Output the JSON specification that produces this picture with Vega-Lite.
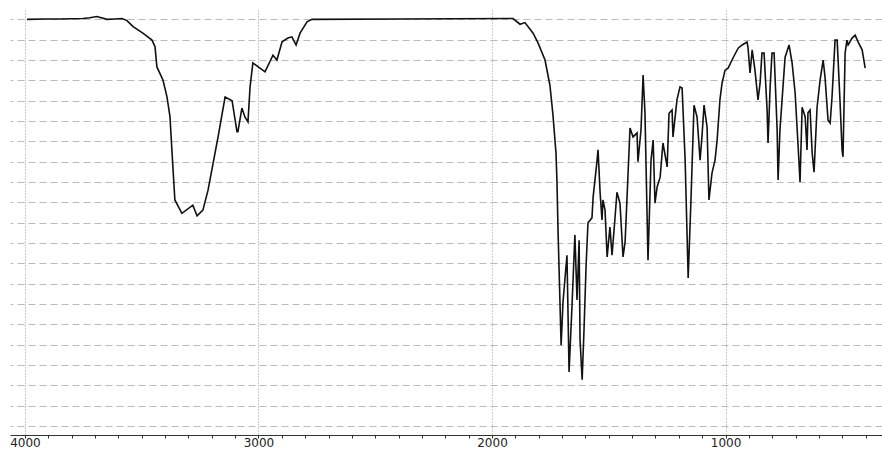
{
  "$schema": "https://vega.github.io/schema/vega-lite/v6.json",
  "autosize": {"type": "none"},
  "width": 872,
  "height": 425,
  "padding": {"left": 10, "top": 10, "right": 0, "bottom": 14},
  "background": "white",
  "config": {"view": {"stroke": null}},
  "data": {
    "values": [
      {"wavenumber": 3991, "transmittance": 100.0},
      {"wavenumber": 3914, "transmittance": 100.1},
      {"wavenumber": 3850, "transmittance": 100.1},
      {"wavenumber": 3752, "transmittance": 100.2},
      {"wavenumber": 3722, "transmittance": 100.4},
      {"wavenumber": 3692, "transmittance": 100.7},
      {"wavenumber": 3649, "transmittance": 100.0},
      {"wavenumber": 3615, "transmittance": 100.1},
      {"wavenumber": 3585, "transmittance": 100.2},
      {"wavenumber": 3563, "transmittance": 99.7},
      {"wavenumber": 3537, "transmittance": 98.2},
      {"wavenumber": 3495, "transmittance": 96.6},
      {"wavenumber": 3456, "transmittance": 94.9},
      {"wavenumber": 3443, "transmittance": 93.3},
      {"wavenumber": 3435, "transmittance": 88.3},
      {"wavenumber": 3409, "transmittance": 85.1},
      {"wavenumber": 3392, "transmittance": 81.0},
      {"wavenumber": 3379, "transmittance": 76.1},
      {"wavenumber": 3370, "transmittance": 67.1},
      {"wavenumber": 3358, "transmittance": 55.6},
      {"wavenumber": 3328, "transmittance": 52.3},
      {"wavenumber": 3281, "transmittance": 54.3},
      {"wavenumber": 3263, "transmittance": 51.7},
      {"wavenumber": 3238, "transmittance": 53.1},
      {"wavenumber": 3216, "transmittance": 58.0},
      {"wavenumber": 3173, "transmittance": 71.1},
      {"wavenumber": 3143, "transmittance": 80.9},
      {"wavenumber": 3113, "transmittance": 80.0},
      {"wavenumber": 3092, "transmittance": 72.4},
      {"wavenumber": 3088, "transmittance": 72.4},
      {"wavenumber": 3071, "transmittance": 78.2},
      {"wavenumber": 3058, "transmittance": 76.0},
      {"wavenumber": 3045, "transmittance": 74.8},
      {"wavenumber": 3036, "transmittance": 83.4},
      {"wavenumber": 3024, "transmittance": 89.3},
      {"wavenumber": 2972, "transmittance": 87.1},
      {"wavenumber": 2938, "transmittance": 91.2},
      {"wavenumber": 2921, "transmittance": 90.0},
      {"wavenumber": 2899, "transmittance": 94.5},
      {"wavenumber": 2874, "transmittance": 95.4},
      {"wavenumber": 2857, "transmittance": 95.7},
      {"wavenumber": 2839, "transmittance": 93.7},
      {"wavenumber": 2822, "transmittance": 96.6},
      {"wavenumber": 2792, "transmittance": 99.4},
      {"wavenumber": 2771, "transmittance": 100.0},
      {"wavenumber": 2394, "transmittance": 100.1},
      {"wavenumber": 1910, "transmittance": 100.2},
      {"wavenumber": 1880, "transmittance": 98.8},
      {"wavenumber": 1859, "transmittance": 99.2},
      {"wavenumber": 1824, "transmittance": 96.6},
      {"wavenumber": 1803, "transmittance": 94.2},
      {"wavenumber": 1773, "transmittance": 90.0},
      {"wavenumber": 1752, "transmittance": 83.8},
      {"wavenumber": 1739, "transmittance": 76.5},
      {"wavenumber": 1726, "transmittance": 67.1},
      {"wavenumber": 1722, "transmittance": 60.5},
      {"wavenumber": 1717, "transmittance": 47.5},
      {"wavenumber": 1704, "transmittance": 19.9},
      {"wavenumber": 1696, "transmittance": 30.5},
      {"wavenumber": 1687, "transmittance": 36.6},
      {"wavenumber": 1679, "transmittance": 42.0},
      {"wavenumber": 1670, "transmittance": 13.3},
      {"wavenumber": 1657, "transmittance": 30.2},
      {"wavenumber": 1645, "transmittance": 47.0},
      {"wavenumber": 1636, "transmittance": 31.0},
      {"wavenumber": 1627, "transmittance": 45.7},
      {"wavenumber": 1623, "transmittance": 21.2},
      {"wavenumber": 1614, "transmittance": 11.4},
      {"wavenumber": 1606, "transmittance": 23.7},
      {"wavenumber": 1597, "transmittance": 39.6},
      {"wavenumber": 1589, "transmittance": 50.0},
      {"wavenumber": 1572, "transmittance": 51.2},
      {"wavenumber": 1567, "transmittance": 56.3},
      {"wavenumber": 1550, "transmittance": 65.4},
      {"wavenumber": 1546, "transmittance": 67.9},
      {"wavenumber": 1537, "transmittance": 57.3},
      {"wavenumber": 1529, "transmittance": 50.7},
      {"wavenumber": 1525, "transmittance": 55.6},
      {"wavenumber": 1516, "transmittance": 53.1},
      {"wavenumber": 1507, "transmittance": 41.6},
      {"wavenumber": 1495, "transmittance": 48.9},
      {"wavenumber": 1486, "transmittance": 42.0},
      {"wavenumber": 1473, "transmittance": 51.4},
      {"wavenumber": 1465, "transmittance": 57.5},
      {"wavenumber": 1452, "transmittance": 54.8},
      {"wavenumber": 1439, "transmittance": 41.6},
      {"wavenumber": 1430, "transmittance": 45.3},
      {"wavenumber": 1418, "transmittance": 61.3},
      {"wavenumber": 1409, "transmittance": 73.3},
      {"wavenumber": 1396, "transmittance": 71.1},
      {"wavenumber": 1379, "transmittance": 72.1},
      {"wavenumber": 1375, "transmittance": 65.0},
      {"wavenumber": 1362, "transmittance": 72.8},
      {"wavenumber": 1353, "transmittance": 86.3},
      {"wavenumber": 1345, "transmittance": 77.0},
      {"wavenumber": 1332, "transmittance": 40.8},
      {"wavenumber": 1319, "transmittance": 65.4},
      {"wavenumber": 1310, "transmittance": 70.3},
      {"wavenumber": 1302, "transmittance": 54.8},
      {"wavenumber": 1293, "transmittance": 58.8},
      {"wavenumber": 1280, "transmittance": 61.2},
      {"wavenumber": 1268, "transmittance": 69.6},
      {"wavenumber": 1250, "transmittance": 63.7},
      {"wavenumber": 1242, "transmittance": 76.9},
      {"wavenumber": 1229, "transmittance": 77.7},
      {"wavenumber": 1225, "transmittance": 71.1},
      {"wavenumber": 1208, "transmittance": 80.2},
      {"wavenumber": 1195, "transmittance": 83.4},
      {"wavenumber": 1186, "transmittance": 83.1},
      {"wavenumber": 1173, "transmittance": 65.4},
      {"wavenumber": 1160, "transmittance": 36.4},
      {"wavenumber": 1148, "transmittance": 55.6},
      {"wavenumber": 1135, "transmittance": 78.9},
      {"wavenumber": 1122, "transmittance": 76.0},
      {"wavenumber": 1109, "transmittance": 65.4},
      {"wavenumber": 1101, "transmittance": 71.1},
      {"wavenumber": 1092, "transmittance": 78.9},
      {"wavenumber": 1079, "transmittance": 73.5},
      {"wavenumber": 1071, "transmittance": 55.6},
      {"wavenumber": 1058, "transmittance": 62.2},
      {"wavenumber": 1045, "transmittance": 65.4},
      {"wavenumber": 1036, "transmittance": 70.3},
      {"wavenumber": 1024, "transmittance": 80.2},
      {"wavenumber": 1015, "transmittance": 84.3},
      {"wavenumber": 1002, "transmittance": 87.5},
      {"wavenumber": 989, "transmittance": 88.0},
      {"wavenumber": 968, "transmittance": 90.5},
      {"wavenumber": 946, "transmittance": 92.9},
      {"wavenumber": 929, "transmittance": 93.7},
      {"wavenumber": 908, "transmittance": 94.4},
      {"wavenumber": 904, "transmittance": 93.2},
      {"wavenumber": 895, "transmittance": 86.8},
      {"wavenumber": 886, "transmittance": 92.5},
      {"wavenumber": 874, "transmittance": 87.5},
      {"wavenumber": 861, "transmittance": 80.2},
      {"wavenumber": 852, "transmittance": 84.3},
      {"wavenumber": 844, "transmittance": 91.7},
      {"wavenumber": 835, "transmittance": 91.7},
      {"wavenumber": 822, "transmittance": 77.7},
      {"wavenumber": 818, "transmittance": 69.6},
      {"wavenumber": 809, "transmittance": 83.4},
      {"wavenumber": 801, "transmittance": 91.7},
      {"wavenumber": 792, "transmittance": 91.7},
      {"wavenumber": 779, "transmittance": 72.8},
      {"wavenumber": 775, "transmittance": 60.5},
      {"wavenumber": 767, "transmittance": 72.8},
      {"wavenumber": 745, "transmittance": 90.7},
      {"wavenumber": 728, "transmittance": 93.7},
      {"wavenumber": 715, "transmittance": 89.3},
      {"wavenumber": 702, "transmittance": 81.9},
      {"wavenumber": 689, "transmittance": 68.6},
      {"wavenumber": 681, "transmittance": 60.0},
      {"wavenumber": 672, "transmittance": 78.4},
      {"wavenumber": 659, "transmittance": 76.0},
      {"wavenumber": 651, "transmittance": 67.9},
      {"wavenumber": 647, "transmittance": 77.0},
      {"wavenumber": 638, "transmittance": 77.7},
      {"wavenumber": 629, "transmittance": 67.1},
      {"wavenumber": 621, "transmittance": 62.4},
      {"wavenumber": 608, "transmittance": 78.4},
      {"wavenumber": 595, "transmittance": 85.1},
      {"wavenumber": 582, "transmittance": 90.0},
      {"wavenumber": 574, "transmittance": 85.8},
      {"wavenumber": 561, "transmittance": 75.2},
      {"wavenumber": 552, "transmittance": 74.5},
      {"wavenumber": 544, "transmittance": 80.9},
      {"wavenumber": 531, "transmittance": 94.9},
      {"wavenumber": 522, "transmittance": 94.9},
      {"wavenumber": 510, "transmittance": 80.2},
      {"wavenumber": 501, "transmittance": 67.9},
      {"wavenumber": 497, "transmittance": 66.2},
      {"wavenumber": 488, "transmittance": 91.7},
      {"wavenumber": 480, "transmittance": 94.9},
      {"wavenumber": 475, "transmittance": 93.7},
      {"wavenumber": 458, "transmittance": 95.4},
      {"wavenumber": 445, "transmittance": 96.1},
      {"wavenumber": 432, "transmittance": 94.4},
      {"wavenumber": 415, "transmittance": 92.5},
      {"wavenumber": 402, "transmittance": 88.0}
    ]
  },
  "mark": {"type": "line", "color": "#111111", "strokeWidth": 1.6, "interpolate": "linear"},
  "encoding": {
    "x": {
      "field": "wavenumber",
      "type": "quantitative",
      "scale": {"domain": [330, 4064], "reverse": true, "nice": false, "zero": false},
      "axis": {
        "title": null,
        "values": [400, 500, 600, 700, 800, 900, 1000, 1100, 1200, 1300, 1400, 1500, 1600, 1700, 1800, 1900, 2000, 2100, 2200, 2300, 2400, 2500, 2600, 2700, 2800, 2900, 3000, 3100, 3200, 3300, 3400, 3500, 3600, 3700, 3800, 3900, 4000],
        "format": "d",
        "labelExpr": "datum.value % 1000 === 0 ? datum.label : ''",
        "labelOverlap": false,
        "labelFlush": false,
        "labelFont": "DejaVu Sans",
        "labelFontSize": 12,
        "labelColor": "#222222",
        "labelPadding": -1,
        "tickSize": 3,
        "tickColor": "#333333",
        "domainColor": "#333333",
        "domainWidth": 1,
        "grid": true,
        "gridDash": [1, 2],
        "gridColor": "#999999",
        "gridOpacity": {"condition": {"test": "datum.value % 1000 === 0", "value": 1}, "value": 0}
      }
    },
    "y": {
      "field": "transmittance",
      "type": "quantitative",
      "scale": {"domain": [-2.2, 102.3], "nice": false, "zero": false},
      "axis": {
        "title": null,
        "values": [0, 5, 10, 15, 20, 25, 30, 35, 40, 45, 50, 55, 60, 65, 70, 75, 80, 85, 90, 95, 100],
        "labels": false,
        "ticks": false,
        "domain": false,
        "grid": true,
        "gridDash": [7, 4],
        "gridColor": "#bbbbbb"
      }
    }
  }
}
